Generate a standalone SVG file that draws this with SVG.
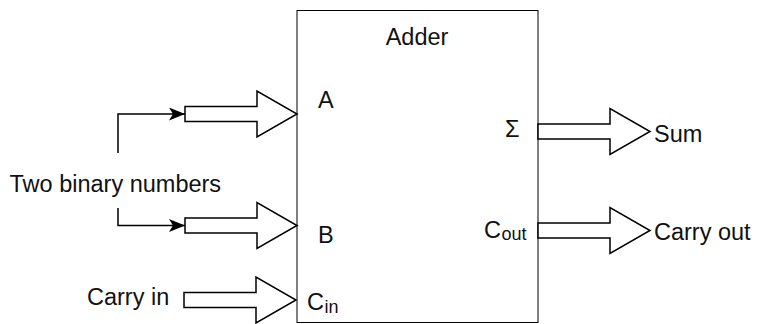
<svg xmlns="http://www.w3.org/2000/svg" width="758" height="324" viewBox="0 0 758 324">
<defs>
<style>
text{font-family:"Liberation Sans",Arial,Helvetica,sans-serif;font-size:23.5px;fill:#111}
.sub{font-size:18px}
.box{fill:#fff;stroke:#000;stroke-width:1}
.blk{fill:#fff;stroke:#000;stroke-width:1.5;stroke-linejoin:miter}
.con{fill:none;stroke:#000;stroke-width:1.5}
</style>
<path id="ba" d="M0,-7.5 H72 V-23 L112,0 L72,23 V7.5 H0 Z"/>
<marker id="arr" markerUnits="userSpaceOnUse" markerWidth="17" markerHeight="14" refX="16" refY="6.5" orient="auto" viewBox="0 0 17 14">
<path d="M0,0 L16,6.5 L0,13 L4,6.5 Z" fill="#000"/>
</marker>
</defs>
<rect width="758" height="324" fill="#fff"/>
<g id="adder">
<rect class="box" x="297" y="10.5" width="241" height="312"/>
<text x="417" y="45" text-anchor="middle">Adder</text>
<text x="318" y="108">A</text>
<text x="318" y="242.5">B</text>
<text x="307" y="310">C<tspan class="sub" x="324.5" y="312.5">in</tspan></text>
<text x="505" y="136.5">Σ</text>
<text x="484" y="238">C<tspan class="sub" x="501.5" y="240">out</tspan></text>
</g>
<g id="arrow-a"><use href="#ba" class="blk" x="185" y="114"/></g>
<g id="arrow-b"><use href="#ba" class="blk" x="185" y="225.5"/></g>
<g id="arrow-cin"><use href="#ba" class="blk" x="184" y="300"/></g>
<g id="arrow-sum"><use href="#ba" class="blk" x="538" y="131.5"/></g>
<g id="arrow-cout"><use href="#ba" class="blk" x="538" y="230.5"/></g>
<g id="label-two"><text x="9.5" y="191.5">Two binary numbers</text></g>
<g id="label-carryin"><text x="87" y="305">Carry in</text></g>
<g id="label-sum"><text x="654" y="141.5">Sum</text></g>
<g id="label-carryout"><text x="654" y="239.5">Carry out</text></g>
<g id="connectors">
<path class="con" d="M118,153 V114 H185" marker-end="url(#arr)"/>
<path class="con" d="M118,208 V225.5 H185" marker-end="url(#arr)"/>
</g>
</svg>
